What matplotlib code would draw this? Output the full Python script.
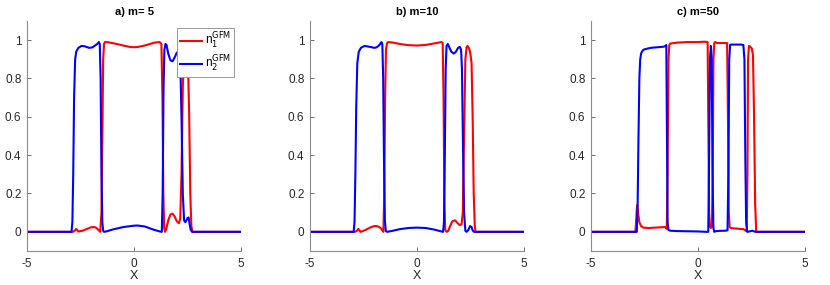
import matplotlib
matplotlib.use("Agg")
import matplotlib.pyplot as plt

plt.rcParams['font.family'] = ['Liberation Sans', 'DejaVu Sans']

titles = ["a) m= 5", "b) m=10", "c) m=50"]
labels = [r"n$_1^{\rm GFM}$", r"n$_2^{\rm GFM}$"]
xticks = [-5, 0, 5]
yticks = [0, 0.2, 0.4, 0.6, 0.8, 1]
yticklabels = ["0", "0.2", "0.4", "0.6", "0.8", "1"]

# ---- panel a (m=5) ----
a_n1_x = [-5, -2.85, -2.75, -2.7, -2.65, -2.6, -2.4, -2.2, -2.0, -1.85, -1.75, -1.65, -1.58,
          -1.52, -1.48, -1.44, -1.40, -1.36, -1.3, -1.1, -0.8, -0.5, -0.2, 0.0, 0.2, 0.5, 0.8,
          1.0, 1.2, 1.28, 1.33, 1.37, 1.41, 1.45, 1.5, 1.6, 1.7, 1.8, 1.9, 2.0, 2.1, 2.16, 2.22,
          2.28, 2.33, 2.38, 2.45, 2.52, 2.58, 2.63, 2.68, 2.73, 5]
a_n1_y = [0, 0, 0.008, 0.015, 0.008, 0.002, 0.006, 0.015, 0.024, 0.025, 0.02, 0.008, 0.0,
          0.1, 0.5, 0.9, 0.98, 0.99, 0.99, 0.987, 0.98, 0.972, 0.965, 0.963, 0.965, 0.972, 0.982,
          0.988, 0.99, 0.98, 0.7, 0.2, 0.02, 0.0, 0.01, 0.06, 0.09, 0.095, 0.08, 0.055, 0.045, 0.07,
          0.3, 0.75, 0.93, 0.95, 0.95, 0.9, 0.6, 0.2, 0.03, 0.0, 0]
a_n2_x = [-5, -2.92, -2.88, -2.84, -2.8, -2.75, -2.7, -2.6, -2.45, -2.3, -2.1, -1.95, -1.82,
          -1.72, -1.64, -1.6, -1.56, -1.52, -1.48, -1.44, -1.4, -1.3, -1.0, -0.5, 0.0, 0.15, 0.5,
          0.9, 1.2, 1.3, 1.34, 1.38, 1.42, 1.47, 1.52, 1.6, 1.7, 1.8, 1.9, 2.0, 2.1, 2.16, 2.22,
          2.28, 2.34, 2.4, 2.45, 2.5, 2.55, 2.6, 2.65, 2.72, 5]
a_n2_y = [0, 0, 0.05, 0.3, 0.7, 0.9, 0.94, 0.96, 0.97, 0.968, 0.96, 0.962, 0.972,
          0.98, 0.99, 0.98, 0.8, 0.3, 0.05, 0.005, 0.0, 0.002, 0.012, 0.025, 0.032, 0.033, 0.028,
          0.012, 0.002, 0.0, 0.2, 0.75, 0.95, 0.98, 0.975, 0.93, 0.895, 0.89, 0.91, 0.935, 0.94, 0.9,
          0.6, 0.2, 0.06, 0.05, 0.06, 0.072, 0.075, 0.04, 0.01, 0.0, 0]

# ---- panel b (m=10) ----
b_n1_x = [-5, -2.9, -2.8, -2.74, -2.68, -2.63, -2.4, -2.2, -2.0, -1.9, -1.8, -1.7, -1.62,
          -1.57, -1.53, -1.49, -1.45, -1.4, -1.34, -1.1, -0.8, -0.4, 0.0, 0.4, 0.8, 1.0, 1.15,
          1.2, 1.24, 1.28, 1.32, 1.38, 1.46, 1.55, 1.65, 1.78, 1.9, 2.0, 2.08, 2.14, 2.2, 2.26,
          2.32, 2.36, 2.42, 2.48, 2.55, 2.6, 2.65, 2.7, 2.74, 5]
b_n1_y = [0, 0, 0.006, 0.015, 0.006, 0.0, 0.01, 0.022, 0.03, 0.03, 0.027, 0.02, 0.008,
          0.0, 0.2, 0.7, 0.95, 0.985, 0.99, 0.987, 0.98, 0.974, 0.972, 0.975, 0.983, 0.987, 0.99,
          0.985, 0.7, 0.15, 0.01, 0.0, 0.005, 0.03, 0.055, 0.06, 0.045, 0.035, 0.04, 0.1, 0.5, 0.9,
          0.965, 0.97, 0.96, 0.94, 0.88, 0.6, 0.2, 0.03, 0.0, 0]
b_n2_x = [-5, -2.96, -2.92, -2.88, -2.84, -2.79, -2.72, -2.62, -2.45, -2.2, -2.0, -1.9, -1.8,
          -1.72, -1.66, -1.62, -1.58, -1.54, -1.5, -1.46, -1.4, -1.2, -0.8, -0.4, 0.0, 0.4, 0.8,
          1.1, 1.22, 1.26, 1.3, 1.34, 1.38, 1.44, 1.5, 1.6, 1.72, 1.82, 1.92, 2.0, 2.06, 2.1, 2.15,
          2.2, 2.26, 2.32, 2.4, 2.48, 2.55, 2.6, 2.66, 5]
b_n2_y = [0, 0, 0.05, 0.3, 0.65, 0.88, 0.94, 0.96, 0.97, 0.965, 0.96, 0.962, 0.97,
          0.98, 0.99, 0.98, 0.8, 0.35, 0.06, 0.005, 0.0, 0.004, 0.014, 0.02, 0.022, 0.02, 0.012,
          0.003, 0.0, 0.05, 0.4, 0.85, 0.97, 0.98, 0.965, 0.94, 0.93, 0.94, 0.96, 0.965, 0.95, 0.85,
          0.45, 0.1, 0.005, 0.0, 0.01, 0.03, 0.025, 0.008, 0.0, 0]

# ---- panel c (m=50) ----
c_n1_x = [-5, -2.93, -2.9, -2.86, -2.84, -2.8, -2.74, -2.66, -2.55, -2.3, -2.0, -1.7, -1.55,
          -1.5, -1.46, -1.42, -1.38, -1.34, -1.3, -1.0, -0.5, 0.0, 0.3, 0.45, 0.48, 0.52, 0.56,
          0.6, 0.65, 0.69, 0.72, 0.76, 0.8, 0.9, 1.2, 1.36, 1.4, 1.44, 1.48, 1.53, 1.7, 2.0, 2.12,
          2.18, 2.24, 2.28, 2.31, 2.34, 2.38, 2.45, 2.52, 2.57, 2.62, 2.67, 2.72, 5]
c_n1_y = [0, 0, 0.04, 0.12, 0.14, 0.1, 0.05, 0.03, 0.022, 0.02, 0.022, 0.024, 0.025,
          0.02, 0.015, 0.3, 0.9, 0.975, 0.982, 0.987, 0.99, 0.99, 0.992, 0.99, 0.6, 0.1, 0.025,
          0.02, 0.03, 0.3, 0.9, 0.985, 0.99, 0.985, 0.985, 0.985, 0.6, 0.1, 0.025, 0.02, 0.018, 0.015,
          0.014, 0.01, 0.005, 0.003, 0.3, 0.9, 0.97, 0.965, 0.955, 0.92, 0.6, 0.15, 0.0, 0]
c_n2_x = [-5, -2.86, -2.82, -2.78, -2.74, -2.7, -2.66, -2.62, -2.55, -2.4, -2.2, -2.0, -1.8,
          -1.6, -1.52, -1.48, -1.45, -1.42, -1.38, -1.3, -1.0, -0.5, 0.0, 0.4, 0.48, 0.52, 0.56,
          0.6, 0.64, 0.68, 0.72, 0.76, 0.8, 1.0, 1.3, 1.38, 1.42, 1.46, 1.5, 1.55, 1.8, 2.0, 2.12,
          2.17, 2.21, 2.25, 2.3, 2.4, 2.55, 2.62, 2.7, 5]
c_n2_y = [0, 0, 0.15, 0.5, 0.8, 0.9, 0.93, 0.94, 0.95, 0.955, 0.96, 0.962, 0.964,
          0.966, 0.97, 0.975, 0.5, 0.05, 0.01, 0.006, 0.004, 0.003, 0.002, 0.0, 0.0, 0.4, 0.9,
          0.97, 0.9, 0.3, 0.02, 0.0, 0.003, 0.005, 0.006, 0.008, 0.3, 0.9, 0.975, 0.977, 0.977, 0.977,
          0.975, 0.9, 0.4, 0.05, 0.0, 0.002, 0.006, 0.002, 0.0, 0]

panels = [
    (a_n1_x, a_n1_y, a_n2_x, a_n2_y),
    (b_n1_x, b_n1_y, b_n2_x, b_n2_y),
    (c_n1_x, c_n1_y, c_n2_x, c_n2_y),
]

W, H = 830, 285
fig = plt.figure(figsize=(8.3, 2.85), dpi=100)
lefts_px = [27, 310, 591]
axw_px = 214
top_px, bot_px = 21, 251

txtcol = '#262626'
axcol = '#8c8c8c'
for i, (x1, y1, x2, y2) in enumerate(panels):
    ax = fig.add_axes([lefts_px[i] / W, 1 - bot_px / H, axw_px / W, (bot_px - top_px) / H])
    ax.plot(x1, y1, color='#ff0000', lw=1.5, label=labels[0])
    ax.plot(x2, y2, color='#0000ff', lw=1.5, label=labels[1])
    ax.set_xlim(-5, 5)
    ax.set_ylim(-0.1, 1.1)
    ax.set_xticks(xticks)
    ax.set_xticklabels([str(t) for t in xticks])
    ax.set_yticks(yticks)
    ax.set_yticklabels(yticklabels)
    for s in ['top', 'right']:
        ax.spines[s].set_visible(False)
    for s in ['left', 'bottom']:
        ax.spines[s].set_color(axcol)
        ax.spines[s].set_linewidth(0.8)
    ax.tick_params(direction='in', length=3, width=0.6, color='#555555', labelsize=8.5,
                   labelcolor=txtcol)
    ax.tick_params(axis='x', pad=5)
    ax.tick_params(axis='y', pad=4)
    ax.set_xlabel('X', fontsize=9, color=txtcol, labelpad=0)
    ax.set_title(titles[i], fontsize=8, fontweight='bold', color='black', pad=4)
    if i == 0:
        leg = ax.legend(loc='upper right', fontsize=8.5, frameon=True, fancybox=False,
                        bbox_to_anchor=(0.965, 0.97),
                        borderaxespad=0.0, handlelength=1.9, handletextpad=0.2,
                        borderpad=0.25, labelspacing=0.25, framealpha=1)
        leg.get_frame().set_edgecolor('#999999')
        leg.get_frame().set_linewidth(0.7)

fig.savefig('out.png', dpi=100)
